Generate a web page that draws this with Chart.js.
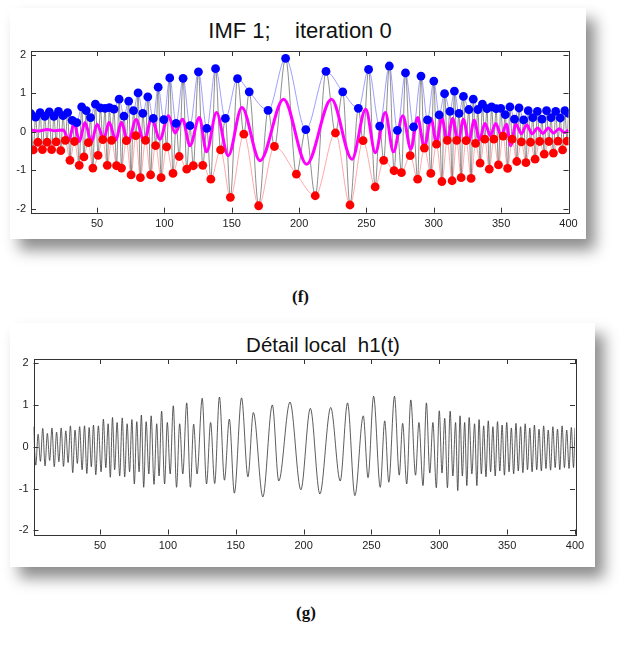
<!DOCTYPE html>
<html>
<head>
<meta charset="utf-8">
<script src="https://cdn.jsdelivr.net/npm/chart.js@4/dist/chart.umd.min.js"></script>
<style>
  body { margin: 0; background: #fff; width: 627px; height: 645px; position: relative; overflow: hidden; }
  .card { position: absolute; background: #fff; box-shadow: 9px 11px 14px rgba(0,0,0,0.45); }
  .ttl { position: absolute; font-family: "Liberation Sans", Arial, sans-serif; color: #111; text-align: center; white-space: pre; }
  .lab { position: absolute; font-family: "Liberation Serif", "DejaVu Serif", serif; font-weight: bold; font-size: 17px; color: #111; }
  canvas { position: absolute; left: 0; }
</style>
</head>
<body>
<div class="card" style="left:10px;top:8px;width:576px;height:231px"></div>
<div class="card" style="left:10px;top:323px;width:585px;height:244px"></div>
<div class="ttl" style="left:0;top:20px;width:600px;font-size:22px;line-height:22px">IMF 1;    iteration 0</div>
<div class="ttl" style="left:0;top:335px;width:646px;font-size:20.5px;line-height:20px">Détail local  h1(t)</div>
<div class="lab" style="left:292px;top:287px">(f)</div>
<div class="lab" style="left:296px;top:603px">(g)</div>
<canvas id="imf" width="627" height="250" style="top:0"></canvas>
<canvas id="h1" width="627" height="260" style="top:315px"></canvas>
<script>
// extrema (sample index, value)
const tMax = [1.0, 4.4, 7.8, 11.2, 14.6, 18.0, 21.4, 24.8, 28.2, 31.6, 35.0, 38.6, 42.0, 45.2, 48.8, 52.5, 56.0, 59.2, 62.6, 66.4,
  70.0, 73.5, 77.1, 80.5, 84.0, 87.7, 91.8, 95.4, 99.6, 104.0, 108.7, 113.9, 119.0, 125.3, 131.5, 138.0, 145.3, 154.3, 163.0, 177.0,
  190.0, 205.0, 220.0, 232.4, 244.0, 251.6, 259.8, 267.0, 273.0, 279.0, 285.0, 290.5, 295.3, 300.0, 304.0, 308.0, 312.0, 315.3, 318.7, 322.0,
  326.0, 329.3, 332.7, 336.1, 339.5, 342.9, 346.3, 349.7, 353.1, 356.5, 359.9, 363.3, 366.7, 370.1, 373.5, 376.9, 380.3, 383.7, 387.1, 390.5,
  393.9, 397.3, 400];
const sigMax = [0.47, 0.38, 0.50, 0.40, 0.52, 0.40, 0.53, 0.42, 0.50, 0.30, 0.24, 0.65, 0.55, 0.37, 0.72, 0.62, 0.61, 0.63, 0.59, 0.85,
  0.41, 0.80, 0.55, 1.01, 0.48, 0.91, 0.35, 1.16, 0.32, 1.40, 0.22, 1.39, 0.16, 1.56, 0.09, 1.64, 0.35, 1.38, 1.04, 0.56,
  1.91, 0.06, 1.57, 1.04, 0.61, 1.62, 0.15, 1.71, 0.04, 1.53, 0.13, 1.45, 0.31, 1.32, 0.44, 0.99, 0.53, 1.06, 0.48, 0.92,
  0.58, 0.85, 0.58, 0.72, 0.60, 0.65, 0.60, 0.61, 0.45, 0.65, 0.33, 0.62, 0.31, 0.55, 0.37, 0.53, 0.33, 0.55, 0.37, 0.53,
  0.36, 0.55, 0.48];
const tMin = [2.7, 6.1, 9.5, 12.9, 16.3, 19.7, 23.1, 26.5, 29.9, 33.3, 36.8, 40.3, 43.6, 46.9, 50.8, 54.3, 57.6, 60.8, 64.5, 68.2,
  71.8, 75.3, 78.8, 82.2, 86.0, 89.8, 93.5, 97.6, 101.7, 106.4, 111.0, 116.6, 121.5, 128.5, 134.5, 141.7, 149.0, 159.0, 170.0, 181.7,
  198.0, 212.0, 227.0, 237.8, 247.5, 256.5, 262.8, 270.5, 276.0, 282.5, 288.0, 293.0, 297.8, 302.0, 306.0, 310.0, 313.6, 317.0, 320.3, 324.0,
  327.7, 331.0, 334.4, 337.8, 341.2, 344.6, 348.0, 351.4, 354.8, 358.2, 361.6, 365.0, 368.4, 371.8, 375.2, 378.6, 382.0, 385.4, 388.8, 392.2,
  395.6, 398.9];
const sigMin = [-0.47, -0.27, -0.46, -0.27, -0.46, -0.26, -0.49, -0.22, -0.74, -0.25, -0.87, -0.65, -0.28, -0.94, -0.61, -0.20, -0.87, -0.22, -0.88, -0.94,
  -0.23, -1.12, -0.10, -1.19, -0.22, -1.12, -0.36, -1.19, -0.39, -1.08, -0.64, -0.97, -0.88, -0.87, -1.23, -0.47, -1.70, -0.06, -1.92, -0.38,
  -1.10, -1.66, -0.03, -1.90, -0.23, -1.43, -0.74, -1.01, -1.06, -0.62, -1.23, -0.42, -1.08, -0.32, -1.29, -0.22, -1.27, -0.22, -1.19, -0.23,
  -1.21, -0.30, -0.81, -0.19, -0.97, -0.19, -0.86, -0.11, -0.95, -0.19, -0.77, -0.26, -0.80, -0.27, -0.71, -0.25, -0.58, -0.25, -0.55, -0.24,
  -0.47, -0.24];
const tMean = [1, 7, 13, 19, 25, 29, 33, 37, 41, 46, 50, 55, 59, 64, 68, 73, 79, 85, 90.5, 96.7,
  103, 108, 113.5, 119, 126, 131.3, 138.7, 147.4, 157.5, 171, 188.5, 205.6, 224, 239.3, 249.5, 256.6, 264, 270, 277, 283,
  288, 293, 298, 302, 306, 310, 314, 318, 322, 326, 330, 334, 338, 342, 346, 350, 354, 357, 361, 365,
  369, 373, 377, 381, 385, 389, 393, 397, 400];
const meanVal = [0.05, 0.02, 0.06, 0.03, 0.05, -0.22, 0.22, -0.25, 0.24, -0.26, 0.20, -0.18, 0.25, -0.22, 0.25, -0.28, 0.32, -0.25, 0.35, -0.19,
  0.42, -0.03, 0.33, -0.36, 0.37, -0.52, 0.50, -0.62, 0.63, -0.75, 0.85, -0.84, 0.85, -0.71, 0.59, -0.54, 0.50, -0.52, 0.42, -0.45,
  0.37, -0.41, 0.35, -0.30, 0.37, -0.28, 0.35, -0.28, 0.33, -0.25, 0.30, -0.20, 0.22, -0.10, 0.22, -0.10, 0.20, -0.36, 0.20, -0.05,
  0.18, -0.05, 0.10, -0.04, 0.10, -0.03, 0.08, -0.02, 0.05];
// h1(t) extrema, at the same sample positions as tMax / tMin
const h1Max = [0.48, 0.30, 0.44, 0.32, 0.45, 0.35, 0.45, 0.38, 0.50, 0.40, 0.48, 0.50, 0.46, 0.52, 0.50, 0.66, 0.55, 0.70, 0.58, 0.69,
  0.55, 0.65, 0.60, 0.76, 0.60, 0.74, 0.55, 0.85, 0.58, 0.98, 0.55, 1.05, 0.54, 1.16, 0.58, 1.19, 0.66, 1.17, 0.82, 1.00,
  1.07, 0.92, 0.94, 1.05, 0.74, 1.21, 0.62, 1.21, 0.56, 1.12, 0.58, 1.05, 0.58, 0.86, 0.68, 0.85, 0.58, 0.74, 0.58, 0.70,
  0.55, 0.65, 0.50, 0.62, 0.48, 0.60, 0.52, 0.58, 0.45, 0.56, 0.48, 0.55, 0.45, 0.52, 0.42, 0.50, 0.40, 0.48, 0.42, 0.50,
  0.40, 0.46, 0.45];
const h1Min = [-0.44, -0.35, -0.46, -0.33, -0.48, -0.36, -0.47, -0.38, -0.62, -0.40, -0.55, -0.64, -0.48, -0.67, -0.60, -0.50, -0.73, -0.55, -0.70, -0.72,
  -0.60, -0.89, -0.60, -0.97, -0.65, -0.90, -0.70, -0.89, -0.65, -0.97, -0.65, -0.97, -0.65, -0.89, -0.88, -0.80, -1.11, -0.72, -1.20, -0.82,
  -1.03, -1.13, -0.82, -1.17, -0.74, -0.97, -0.85, -0.68, -0.89, -0.68, -0.93, -0.63, -0.98, -0.63, -0.98, -0.70, -1.05, -0.70, -0.93, -0.65,
  -0.93, -0.65, -0.72, -0.60, -0.70, -0.58, -0.68, -0.60, -0.65, -0.58, -0.62, -0.55, -0.60, -0.55, -0.58, -0.52, -0.56, -0.50, -0.55, -0.50,
  -0.52, -0.50];
const xTicks = [50, 100, 150, 200, 250, 300, 350, 400];
const yTicks = [-2, -1, 0, 1, 2];

function pts(t, v) { return t.map((x, i) => ({ x: x, y: v[i] })); }
function merged(a, b) { return a.concat(b).sort((p, q) => p.x - q.x); }

// MATLAB-like box with inward tick marks
const boxTicks = {
  id: 'boxTicks',
  afterDraw(chart) {
    const { ctx, chartArea: a, scales } = chart;
    ctx.save();
    ctx.strokeStyle = '#333';
    ctx.lineWidth = 1;
    ctx.strokeRect(Math.round(a.left) + 0.5, Math.round(a.top) + 0.5, Math.round(a.width), Math.round(a.height));
    ctx.beginPath();
    xTicks.forEach(v => {
      const px = Math.round(scales.x.getPixelForValue(v)) + 0.5;
      ctx.moveTo(px, a.bottom); ctx.lineTo(px, a.bottom - 5);
      ctx.moveTo(px, a.top); ctx.lineTo(px, a.top + 5);
    });
    yTicks.forEach(v => {
      const py = Math.round(scales.y.getPixelForValue(v)) + 0.5;
      ctx.moveTo(a.left, py); ctx.lineTo(a.left + 5, py);
      ctx.moveTo(a.right, py); ctx.lineTo(a.right - 5, py);
    });
    ctx.stroke();
    ctx.restore();
  }
};

function axes(yWidth) {
  const font = { family: 'Liberation Sans', size: 11 };
  return {
    x: {
      type: 'linear', min: 1, max: 400,
      grid: { display: false, drawTicks: false }, border: { display: false },
      ticks: { color: '#222', font: font, padding: 5, maxRotation: 0 },
      afterBuildTicks: s => { s.ticks = xTicks.map(v => ({ value: v })); },
      afterFit: s => { s.height = 20; }
    },
    y: {
      min: -2.1, max: 2.1,
      grid: { display: false, drawTicks: false }, border: { display: false },
      ticks: { color: '#222', font: font, padding: 5 },
      afterBuildTicks: s => { s.ticks = yTicks.map(v => ({ value: v })); },
      afterFit: s => { s.width = yWidth; }
    }
  };
}

const common = {
  responsive: false, animation: false, devicePixelRatio: 1,
  plugins: { legend: { display: false }, tooltip: { enabled: false } },
  elements: { line: { cubicInterpolationMode: 'monotone' } }
};

new Chart(document.getElementById('imf'), {
  type: 'line',
  data: {
    datasets: [
      { data: pts(tMax, sigMax), borderColor: 'rgba(70,70,255,0.75)', borderWidth: 0.7,
        pointRadius: 4.4, pointBackgroundColor: '#0000ff', pointBorderWidth: 0 },
      { data: pts(tMin, sigMin), borderColor: 'rgba(255,90,90,0.75)', borderWidth: 0.7,
        pointRadius: 4.4, pointBackgroundColor: '#ff0000', pointBorderWidth: 0 },
      { data: pts(tMean, meanVal), borderColor: '#ff00ff', borderWidth: 3, pointRadius: 0 },
      { data: merged(pts(tMax, sigMax), pts(tMin, sigMin)), borderColor: 'rgba(50,50,50,0.8)', borderWidth: 0.7, pointRadius: 0 }
    ]
  },
  options: Object.assign({}, common, {
    layout: { padding: { left: 6, right: 58.5, top: 51, bottom: 17.3 } },
    scales: axes(25)
  }),
  plugins: [boxTicks]
});

new Chart(document.getElementById('h1'), {
  type: 'line',
  data: {
    datasets: [
      { data: merged(pts(tMax, h1Max), pts(tMin, h1Min)), borderColor: '#333', borderWidth: 0.8, pointRadius: 0 }
    ]
  },
  options: Object.assign({}, common, {
    layout: { padding: { left: 8.5, right: 52, top: 44, bottom: 20.5 } },
    scales: axes(25)
  }),
  plugins: [boxTicks]
});
</script>
</body>
</html>
